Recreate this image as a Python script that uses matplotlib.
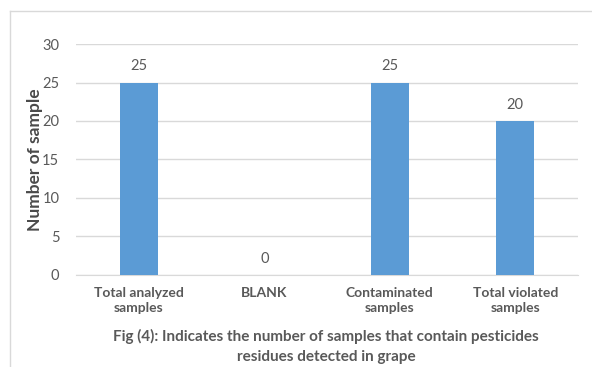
import matplotlib
matplotlib.use("Agg")
import matplotlib.pyplot as plt
from matplotlib.lines import Line2D

# sample counts for grape
categories = ["Total analyzed\nsamples", "BLANK", "Contaminated\nsamples", "Total violated\nsamples"]
counts = [25, 0, 25, 20]
yticks = [0, 5, 10, 15, 20, 25, 30]
caption = "Fig (4): Indicates the number of samples that contain pesticides\nresidues detected in grape"

plt.rcParams['font.family'] = ['Lato', 'DejaVu Sans']

grey = "#595959"
fig = plt.figure(figsize=(5.92, 3.67), dpi=100)
ax = fig.add_axes([0.1284, 0.2507, 0.848, 0.6294])

x = range(len(categories))
ax.bar(x, counts, width=0.305, color="#5b9bd5", zorder=3)
for i, v in zip(x, counts):
    ax.text(i, v + 1.2, str(v), ha="center", va="bottom", fontsize=10.5, color=grey)

ax.set_xlim(-0.5, len(categories) - 0.5)
ax.set_ylim(0, 30)
ax.set_yticks(yticks)
ax.yaxis.grid(True, color="#d9d9d9", linewidth=1, zorder=0)
ax.set_xticks(list(x))
ax.tick_params(axis="both", length=0, colors=grey)
ax.tick_params(axis="x", pad=9, labelsize=10)
ax.tick_params(axis="y", pad=12, labelsize=10.5)
ax.set_xticklabels(categories, fontweight="bold", color=grey, linespacing=1.25)
for s in ["top", "right", "left"]:
    ax.spines[s].set_visible(False)
ax.spines["bottom"].set_color("#d9d9d9")
ax.set_ylabel("Number of sample", fontweight="bold", fontsize=12.5, color="#4a4a4a")
ax.yaxis.set_label_coords(-0.066, 0.5)

fig.text(326 / 592, 1 - 346 / 367, caption, ha="center", va="center",
         fontweight="bold", fontsize=11, color=grey, linespacing=1.55)

# outer chart border
fig.add_artist(Line2D([10 / 592, 10 / 592], [0, 1 - 11 / 367], color="#d9d9d9", lw=1))
fig.add_artist(Line2D([10 / 592, 1], [1 - 11 / 367, 1 - 11 / 367], color="#d9d9d9", lw=1))

fig.savefig("out.png", dpi=100)
